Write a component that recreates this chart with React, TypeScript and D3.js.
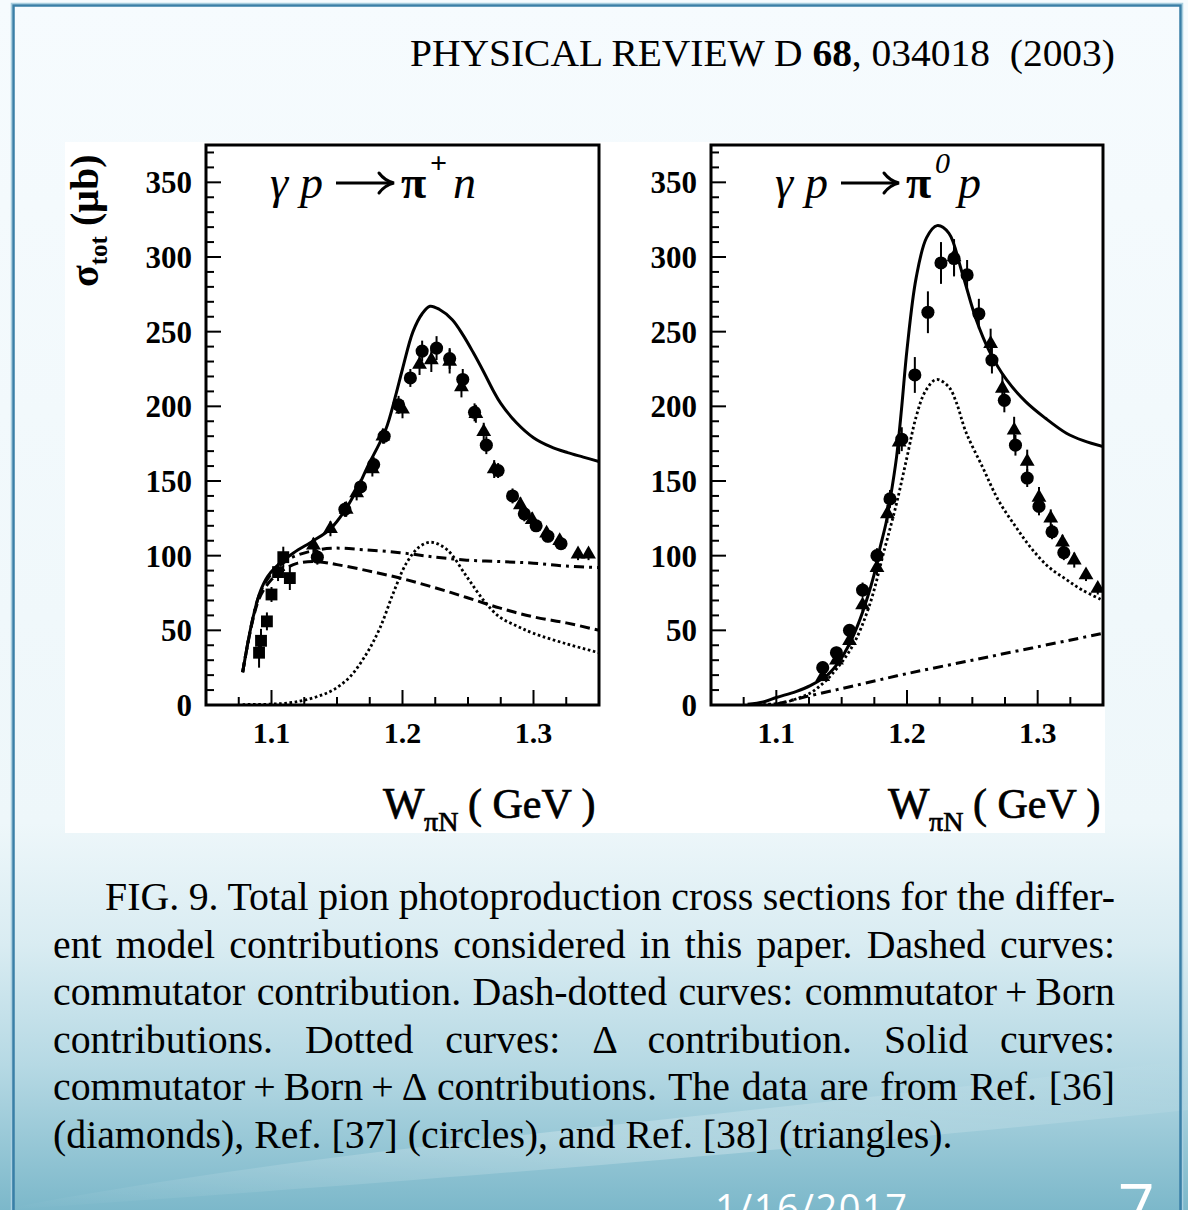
import React, { useLayoutEffect, useRef, useState } from "react";
import * as d3 from "d3";

// ---------- data (W in GeV, sigma in microbarn) ----------
const piPlusSolid: [number, number][] = [
  [1.078, 22], [1.085, 55], [1.091, 75], [1.097, 86], [1.104, 93], [1.117, 102],
  [1.132, 110], [1.145, 118], [1.155, 129], [1.165, 144], [1.173, 159], [1.187, 184],
  [1.195, 208], [1.2, 225], [1.208, 250], [1.215, 262], [1.221, 267], [1.228, 265],
  [1.238, 258], [1.246, 248], [1.254, 236], [1.262, 223], [1.269, 211], [1.275, 202],
  [1.287, 189], [1.3, 179], [1.313, 173], [1.326, 169], [1.338, 166], [1.35, 163],
];
const piPlusDashDot: [number, number][] = [
  [1.078, 22], [1.09, 72], [1.1, 88], [1.114, 98], [1.13, 103], [1.147, 105],
  [1.17, 104], [1.198, 102], [1.225, 99], [1.249, 97], [1.275, 96], [1.3, 95],
  [1.325, 93], [1.35, 92],
];
const piPlusDashed: [number, number][] = [
  [1.078, 22], [1.09, 70], [1.1, 84], [1.11, 91], [1.12, 95], [1.135, 96],
  [1.15, 94], [1.173, 90], [1.198, 85], [1.223, 79], [1.249, 72], [1.274, 65],
  [1.3, 59], [1.325, 55], [1.35, 50],
];
const piPlusDotted: [number, number][] = [
  [1.078, 0.3], [1.1, 0.6], [1.114, 1.5], [1.124, 3], [1.136, 6], [1.147, 10],
  [1.16, 19], [1.173, 35], [1.183, 52], [1.193, 75], [1.203, 95], [1.213, 106],
  [1.222, 109], [1.234, 104], [1.249, 86], [1.262, 70], [1.274, 59], [1.287, 53],
  [1.3, 48], [1.325, 41], [1.35, 35],
];
// [W, sigma, error]
const piPlusSquares: [number, number, number][] = [
  [1.0905, 35, 10], [1.092, 43, 8], [1.0965, 56, 6], [1.1, 74, 5],
  [1.105, 89, 6], [1.109, 99, 7], [1.114, 85, 8],
];
const piPlusCircles: [number, number, number][] = [
  [1.135, 99, 5], [1.156, 131, 5], [1.168, 146, 5], [1.178, 161, 5], [1.186, 180, 5],
  [1.197, 201, 6], [1.206, 219, 6], [1.215, 237, 7], [1.226, 239, 8], [1.236, 232, 7],
  [1.246, 218, 7], [1.255, 196, 6], [1.264, 174, 6], [1.273, 157, 5], [1.284, 140, 5],
  [1.293, 128, 5], [1.302, 120, 4], [1.311, 113, 4], [1.321, 108, 4],
];
const piPlusTriangles: [number, number, number][] = [
  [1.132, 107, 5], [1.145, 118, 5], [1.157, 131, 5], [1.165, 142, 5], [1.177, 158, 5],
  [1.185, 180, 5], [1.2, 198, 6], [1.213, 228, 7], [1.222, 231, 8], [1.236, 230, 8],
  [1.245, 213, 7], [1.256, 195, 6], [1.262, 183, 6], [1.27, 158, 6], [1.29, 134, 5],
  [1.299, 124, 5], [1.31, 115, 4], [1.32, 110, 4], [1.334, 101, 4], [1.342, 101, 4],
];

const pi0Solid: [number, number][] = [
  [1.078, 0.5], [1.09, 2], [1.1, 5], [1.115, 9], [1.126, 13], [1.139, 20], [1.148, 29],
  [1.156, 41], [1.163, 55], [1.169, 70], [1.175, 88], [1.179, 104], [1.184, 122],
  [1.187, 137], [1.192, 166], [1.196, 200], [1.2, 238], [1.207, 286], [1.215, 313],
  [1.223, 321], [1.232, 316], [1.242, 290], [1.253, 258], [1.263, 237], [1.276, 218],
  [1.291, 203], [1.306, 192], [1.322, 182], [1.335, 177], [1.35, 173],
];
const pi0DashDot: [number, number][] = [
  [1.1, 0.5], [1.12, 5], [1.14, 9], [1.16, 13], [1.2, 21], [1.25, 30], [1.3, 39], [1.35, 48],
];
const pi0Dotted: [number, number][] = [
  [1.09, 0.3], [1.105, 1.5], [1.115, 4], [1.126, 8], [1.135, 14], [1.143, 21],
  [1.158, 39], [1.171, 66], [1.183, 105], [1.192, 135], [1.2, 166], [1.207, 193],
  [1.214, 210], [1.2225, 218], [1.232, 213], [1.238, 202], [1.245, 183], [1.258, 159],
  [1.27, 137], [1.2835, 119], [1.296, 104], [1.309, 92], [1.322, 84], [1.334, 77], [1.35, 70],
];
const pi0Circles: [number, number, number][] = [
  [1.1355, 25, 4], [1.146, 35, 4], [1.156, 50, 4], [1.166, 77, 5], [1.177, 100, 5],
  [1.187, 138, 6], [1.196, 178, 8], [1.206, 221, 12], [1.216, 263, 14], [1.226, 296, 14],
  [1.236, 299, 12], [1.246, 288, 10], [1.255, 262, 10], [1.265, 231, 9], [1.2745, 204, 8],
  [1.283, 174, 7], [1.292, 152, 6], [1.301, 133, 6], [1.311, 116, 5], [1.32, 102, 5],
];
const pi0Triangles: [number, number, number][] = [
  [1.1355, 19, 3], [1.146, 30, 3], [1.156, 43, 4], [1.166, 67, 4], [1.177, 92, 5],
  [1.185, 128, 6], [1.194, 176, 8], [1.236, 300, 12], [1.264, 242, 10], [1.273, 212, 10],
  [1.282, 184, 9], [1.292, 163, 8], [1.301, 139, 7], [1.31, 125, 6], [1.319, 109, 5],
  [1.328, 97, 5], [1.337, 87, 4], [1.346, 78, 4],
];

const yTickLabels = [0, 50, 100, 150, 200, 250, 300, 350];
const xTickLabels = [1.1, 1.2, 1.3];
const xDomain: [number, number] = [1.05, 1.35];
const yDomain: [number, number] = [0, 375];

const headerText = ["PHYSICAL REVIEW D ", "68", ", 034018  (2003)"];
const captionLines = [
  "FIG. 9. Total pion photoproduction cross sections for the differ-",
  "ent model contributions considered in this paper. Dashed curves:",
  "commutator contribution. Dash-dotted curves: commutator\u2009+\u2009Born",
  "contributions. Dotted curves: \u0394 contribution. Solid curves:",
  "commutator\u2009+\u2009Born\u2009+\u2009\u0394 contributions. The data are from Ref. [36]",
  "(diamonds), Ref. [37] (circles), and Ref. [38] (triangles).",
];
const footerDate = "1/16/2017";
const footerPage = "7";

const SERIF = "'Liberation Serif', 'Times New Roman', serif";

function JustLine(props: { x: number; y: number; width: number; text: string; justify: boolean; fontSize: number }) {
  const ref = useRef<SVGTextElement>(null);
  const [ws, setWs] = useState(0);
  useLayoutEffect(() => {
    if (!props.justify || !ref.current) return;
    const natural = ref.current.getComputedTextLength();
    const spaces = (props.text.match(/ /g) || []).length;
    if (spaces > 0) setWs((props.width - natural) / spaces);
  }, [props.text, props.width, props.justify]);
  return (
    <text ref={ref} x={props.x} y={props.y} fontFamily={SERIF} fontSize={props.fontSize}
      fill="#000" style={{ wordSpacing: `${ws}px` }}>
      {props.text}
    </text>
  );
}

type PanelProps = {
  x0: number; x1: number; y0: number; y1: number;
  solid: [number, number][];
  dashDot: [number, number][];
  dashed?: [number, number][];
  dotted: [number, number][];
  squares?: [number, number, number][];
  circles: [number, number, number][];
  triangles: [number, number, number][];
};

function Panel(p: PanelProps) {
  const x = d3.scaleLinear().domain(xDomain).range([p.x0, p.x1]);
  const y = d3.scaleLinear().domain(yDomain).range([p.y1, p.y0]);
  const line = d3.line<[number, number]>().x((d) => x(d[0])).y((d) => y(d[1])).curve(d3.curveCatmullRom.alpha(0.5));
  const sym = (type: d3.SymbolType, size: number) => d3.symbol().type(type).size(size)() as string;
  const circ = sym(d3.symbolCircle, 135);
  const tri = sym(d3.symbolTriangle, 95);
  const sq = sym(d3.symbolSquare, 140);

  const yMinor = d3.range(0, 371, 10);
  const xMinor = d3.range(1.075, 1.34, 0.025);

  const errs = (arr: [number, number, number][]) =>
    arr.map((d, i) => (
      <line key={i} x1={x(d[0])} x2={x(d[0])} y1={y(d[1] - d[2])} y2={y(d[1] + d[2])} stroke="#000" strokeWidth={2} />
    ));

  return (
    <g>
      <defs>
        <clipPath id={`clip${p.x0}`}>
          <rect x={p.x0} y={p.y0} width={p.x1 - p.x0} height={p.y1 - p.y0} />
        </clipPath>
      </defs>
      {yMinor.map((v) => {
        const major = v % 50 === 0;
        return <line key={`yt${v}`} x1={p.x0} x2={p.x0 + (major ? 15 : 8)} y1={y(v)} y2={y(v)} stroke="#000" strokeWidth={2} />;
      })}
      {xMinor.map((v) => {
        const major = Math.abs(v * 10 - Math.round(v * 10)) < 1e-6;
        return <line key={`xt${v}`} x1={x(v)} x2={x(v)} y1={p.y1} y2={p.y1 - (major ? 15 : 8)} stroke="#000" strokeWidth={2} />;
      })}
      {yTickLabels.map((v) => (
        <text key={`yl${v}`} x={p.x0 - 14} y={y(v)} dy="0.35em" textAnchor="end" fontFamily={SERIF} fontWeight="bold" fontSize={31}>{v}</text>
      ))}
      {xTickLabels.map((v) => (
        <text key={`xl${v}`} x={x(v)} y={p.y1 + 38} textAnchor="middle" fontFamily={SERIF} fontWeight="bold" fontSize={30}>{d3.format(".1f")(v)}</text>
      ))}
      <g clipPath={`url(#clip${p.x0})`}>
        <path d={line(p.dotted) || ""} fill="none" stroke="#000" strokeWidth={2.8} strokeDasharray="2.6 2.6" />
        {p.dashed && <path d={line(p.dashed) || ""} fill="none" stroke="#000" strokeWidth={3} strokeDasharray="10 5" />}
        <path d={line(p.dashDot) || ""} fill="none" stroke="#000" strokeWidth={3} strokeDasharray="10 5 3 5" />
        <path d={line(p.solid) || ""} fill="none" stroke="#000" strokeWidth={3} />
        {p.squares && errs(p.squares)}
        {errs(p.circles)}
        {errs(p.triangles)}
        {p.squares && p.squares.map((d, i) => <path key={`s${i}`} d={sq} transform={`translate(${x(d[0])},${y(d[1])})`} fill="#000" />)}
        {p.triangles.map((d, i) => <path key={`t${i}`} d={tri} transform={`translate(${x(d[0])},${y(d[1])})`} fill="#000" />)}
        {p.circles.map((d, i) => <path key={`c${i}`} d={circ} transform={`translate(${x(d[0])},${y(d[1])})`} fill="#000" />)}
      </g>
      <rect x={p.x0} y={p.y0} width={p.x1 - p.x0} height={p.y1 - p.y0} fill="none" stroke="#000" strokeWidth={3} />
    </g>
  );
}

function Title(props: { x: number; sup: string; last: string; supItalic: boolean }) {
  const b = 198;
  const x = props.x;
  const ay = b - 15;
  return (
    <g fontFamily={SERIF} fontSize={46} fill="#000">
      <text x={x} y={b} fontStyle="italic">γ</text>
      <text x={x + 30} y={b} fontStyle="italic">p</text>
      <line x1={x + 66} x2={x + 120} y1={ay} y2={ay} stroke="#000" strokeWidth={3.2} />
      <path d={`M${x + 109},${ay - 10} Q${x + 115},${ay - 2} ${x + 124},${ay} Q${x + 115},${ay + 2} ${x + 109},${ay + 10}`} fill="none" stroke="#000" strokeWidth={3} strokeLinecap="round" />
      <text x={x + 131} y={b} fontWeight="bold">π</text>
      <text x={x + 160} y={b - 25} fontSize={30} fontStyle={props.supItalic ? "italic" : "normal"} fontWeight={props.supItalic ? "normal" : "bold"}>{props.sup}</text>
      <text x={x + 183} y={b} fontStyle="italic">{props.last}</text>
    </g>
  );
}

function AxisTitle(props: { x: number }) {
  return (
    <g fontFamily={SERIF} fill="#000" stroke="#000" strokeWidth={0.7}>
      <text x={props.x} y={818} fontSize={44}>W</text>
      <text x={props.x + 41} y={831} fontSize={28}>πN</text>
      <text x={props.x + 85} y={818} fontSize={42} style={{ whiteSpace: "pre" }}>( GeV )</text>
    </g>
  );
}

export default function App() {
  const Wd = 1188, Ht = 1210;
  return (
    <svg width={Wd} height={Ht} style={{ position: "absolute", left: 0, top: 0, display: "block" }}>
      <defs>
        <linearGradient id="bg" x1="0" y1="0" x2="0" y2="1">
          <stop offset="0" stopColor="#f6fbfe" />
          <stop offset="0.68" stopColor="#eef7fa" />
          <stop offset="0.78" stopColor="#d9ecf2" />
          <stop offset="0.88" stopColor="#b6d9e4" />
          <stop offset="1" stopColor="#7cb8ca" />
        </linearGradient>
        <linearGradient id="swoosh" x1="0" y1="1" x2="1" y2="0">
          <stop offset="0" stopColor="#ffffff" stopOpacity="0" />
          <stop offset="0.5" stopColor="#ffffff" stopOpacity="0.25" />
          <stop offset="1" stopColor="#ffffff" stopOpacity="0" />
        </linearGradient>
      </defs>
      <rect x={0} y={0} width={Wd} height={Ht} fill="url(#bg)" />
      <path d="M0,1210 C300,1150 700,1120 1188,1060 L1188,1110 C700,1160 300,1190 0,1210 Z" fill="url(#swoosh)" />
      <path d="M11.5,1210 L11.5,3.5 L1182.5,3.5 L1182.5,1210" fill="none" stroke="#a9cfe0" strokeWidth={1.5} />
      <path d="M13.5,1210 L13.5,5.5 L1180.5,5.5 L1180.5,1210" fill="none" stroke="#3a7fa7" strokeWidth={2.5} />

      <text x={410} y={66} fontFamily={SERIF} fontSize={38} fill="#000" textLength={705} lengthAdjust="spacingAndGlyphs" style={{ whiteSpace: "pre" }}>
        <tspan>{headerText[0]}</tspan>
        <tspan fontWeight="bold">{headerText[1]}</tspan>
        <tspan>{headerText[2]}</tspan>
      </text>

      <rect x={65} y={142} width={1040} height={691} fill="#fff" />
      <Panel x0={206} x1={599} y0={145} y1={705}
        solid={piPlusSolid} dashDot={piPlusDashDot} dashed={piPlusDashed} dotted={piPlusDotted}
        squares={piPlusSquares} circles={piPlusCircles} triangles={piPlusTriangles} />
      <Panel x0={711} x1={1103} y0={145} y1={705}
        solid={pi0Solid} dashDot={pi0DashDot} dotted={pi0Dotted}
        circles={pi0Circles} triangles={pi0Triangles} />
      <Title x={270} sup="+" last="n" supItalic={false} />
      <Title x={775} sup="0" last="p" supItalic={true} />
      <AxisTitle x={383} />
      <AxisTitle x={888} />
      <g transform="translate(98,287) rotate(-90)" fontFamily={SERIF} fontWeight="bold" fill="#000">
        <text x={0} y={0} fontSize={40}>
          <tspan>σ</tspan>
          <tspan fontSize={25} dy={9}>tot</tspan>
          <tspan fontSize={40} dy={-9}> (μb)</tspan>
        </text>
      </g>

      {captionLines.map((t, i) => (
        <JustLine key={i} x={i === 0 ? 105 : 53} y={910 + i * 47.6} width={i === 0 ? 1010 : 1062}
          text={t} justify={i < captionLines.length - 1} fontSize={39.8} />
      ))}

      <text x={715} y={1222} fontFamily="'Open Sans', sans-serif" fontSize={38} letterSpacing={1.5} fill="#fff">{footerDate}</text>
      <text x={1118} y={1230} fontFamily="'Open Sans', sans-serif" fontSize={64} fill="#fff">{footerPage}</text>
    </svg>
  );
}
